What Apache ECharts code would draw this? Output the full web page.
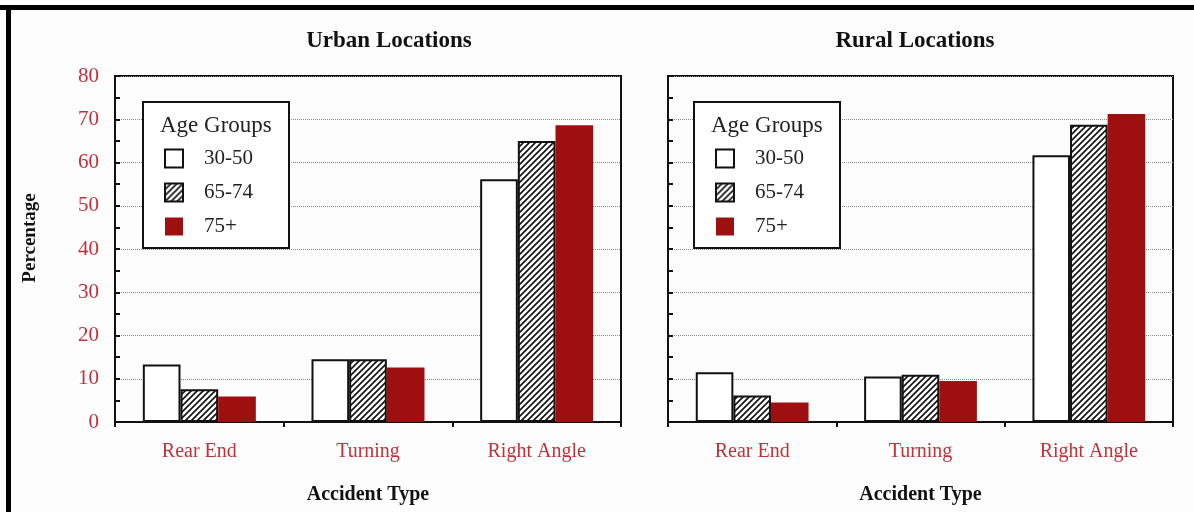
<!DOCTYPE html>
<html>
<head>
    <meta charset="utf-8">
    <title>Accident Type by Age Group</title>
    <script src="https://cdn.jsdelivr.net/npm/echarts@6/dist/echarts.min.js"></script>
    <style>
        html, body { margin: 0; padding: 0; background: #fdfdfd; }
        #chart { width: 1194px; height: 512px; }
    </style>
</head>
<body>
<div id="chart"></div>
<script type="text/javascript">
// 数据
var categories = ['Rear End', 'Turning', 'Right Angle'];
var groups = ['30-50', '65-74', '75+'];
var urban3050 = [13.3, 14.5, 56.1];
var urban6574 = [7.6, 14.5, 65.0];
var urban75 = [5.9, 12.6, 68.6];
var rural3050 = [11.5, 10.5, 61.7];
var rural6574 = [6.1, 10.9, 68.7];
var rural75 = [4.5, 9.5, 71.2];

var FONT = '"Liberation Serif", "Times New Roman", serif';
var RED = '#9e1010';
var LABEL_RED = '#c0323a';

// 斜线填充
function hatch() {
    var c = document.createElement('canvas');
    c.width = 6; c.height = 6;
    var ctx = c.getContext('2d');
    ctx.fillStyle = '#fff';
    ctx.fillRect(0, 0, 6, 6);
    ctx.strokeStyle = '#111';
    ctx.lineWidth = 1.6;
    ctx.beginPath();
    ctx.moveTo(0, 6); ctx.lineTo(6, 0);
    ctx.moveTo(-3, 3); ctx.lineTo(3, -3);
    ctx.moveTo(3, 9); ctx.lineTo(9, 3);
    ctx.stroke();
    return { image: c, repeat: 'repeat' };
}
var hatchFill = hatch();

var myChart = echarts.init(document.getElementById('chart'));

function xAxisFor(idx) {
    return {
        type: 'category', gridIndex: idx, data: categories,
        name: 'Accident Type', nameLocation: 'middle', nameGap: 63,
        nameTextStyle: { fontFamily: FONT, fontSize: 20, fontWeight: 'bold', color: '#111' },
        axisLine: { lineStyle: { color: '#111', width: 2 } },
        axisTick: { show: true, length: 5, lineStyle: { color: '#111', width: 2 } },
        axisLabel: { fontFamily: FONT, fontSize: 20, color: LABEL_RED, margin: 20 }
    };
}
function yAxisFor(idx, labels) {
    return {
        type: 'value', gridIndex: idx, min: 0, max: 80, interval: 10,
        axisLine: { show: true, lineStyle: { color: '#111', width: 2 } },
        axisTick: { show: true, inside: true, length: 5, lineStyle: { color: '#111', width: 2 } },
        minorTick: { show: true, splitNumber: 2, length: 5, lineStyle: { color: '#111', width: 2 } },
        splitLine: { show: true, lineStyle: { color: '#888', width: 1, type: [1, 1] } },
        axisLabel: { show: labels, fontFamily: FONT, fontSize: 21, color: LABEL_RED, margin: 16 }
    };
}
function barsFor(idx, a, b, c) {
    var base = { type: 'bar', xAxisIndex: idx, yAxisIndex: idx, barGap: '0%', barCategoryGap: '33%' };
    return [
        Object.assign({}, base, { name: groups[0], data: a, itemStyle: { color: '#fff', borderColor: '#111', borderWidth: 2 } }),
        Object.assign({}, base, { name: groups[1], data: b, itemStyle: { color: hatchFill, borderColor: '#111', borderWidth: 2 } }),
        Object.assign({}, base, { name: groups[2], data: c, itemStyle: { color: RED } })
    ];
}
function legendFor(left) {
    return {
        data: groups, orient: 'vertical', left: left, top: 148, padding: 0,
        itemWidth: 18, itemHeight: 18, itemGap: 13, z: 20, selectedMode: false,
        icon: 'rect',
        textStyle: { fontFamily: FONT, fontSize: 21, color: '#222', lineHeight: 18, padding: [0, 0, 0, 16] }
    };
}
function legendBox(x) {
    return [
        { type: 'rect', z: 10, shape: { x: x, y: 102, width: 146, height: 146 },
          style: { fill: '#fff', stroke: '#111', lineWidth: 2 } },
        { type: 'text', z: 11, x: x + 17, y: 126,
          style: { text: 'Age Groups', font: '23px ' + FONT, fill: '#222', verticalAlign: 'middle' } }
    ];
}

myChart.setOption({
    backgroundColor: '#fdfdfd',
    animation: false,
    grid: [
        { left: 115, top: 76, width: 506, height: 346, show: true, borderColor: '#111', borderWidth: 2, backgroundColor: 'transparent' },
        { left: 668, top: 76, width: 505, height: 346, show: true, borderColor: '#111', borderWidth: 2, backgroundColor: 'transparent' }
    ],
    xAxis: [xAxisFor(0), xAxisFor(1)],
    yAxis: [yAxisFor(0, true), yAxisFor(1, false)],
    legend: [legendFor(164), legendFor(715)],
    series: barsFor(0, urban3050, urban6574, urban75).concat(barsFor(1, rural3050, rural6574, rural75)),
    graphic: [
        // 外框
        { type: 'rect', z: 30, shape: { x: 0, y: 5, width: 1194, height: 5 }, style: { fill: '#000' } },
        { type: 'rect', z: 30, shape: { x: 6, y: 5, width: 5, height: 507 }, style: { fill: '#000' } },
        { type: 'text', z: 30, x: 389, y: 41,
          style: { text: 'Urban Locations', font: 'bold 23px ' + FONT, fill: '#111', align: 'center', verticalAlign: 'middle' } },
        { type: 'text', z: 30, x: 915, y: 41,
          style: { text: 'Rural Locations', font: 'bold 23px ' + FONT, fill: '#111', align: 'center', verticalAlign: 'middle' } },
        { type: 'text', z: 30, x: 30, y: 238, rotation: Math.PI / 2,
          style: { text: 'Percentage', font: 'bold 19px ' + FONT, fill: '#111', align: 'center', verticalAlign: 'middle' } }
    ].concat(legendBox(143), legendBox(694))
});
</script>
</body>
</html>
